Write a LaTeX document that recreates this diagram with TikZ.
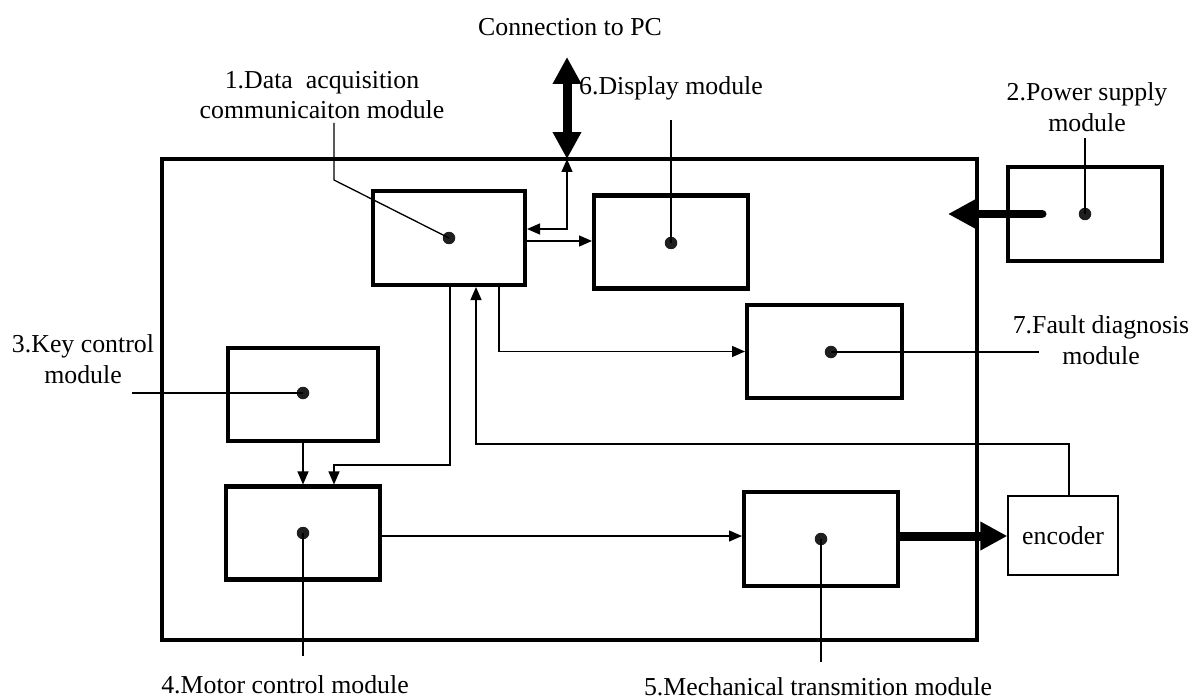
\documentclass[tikz,border=0pt]{standalone}
\usepackage{fontspec}
\setmainfont{Liberation Serif}
\usetikzlibrary{arrows.meta}

\tikzset{
	module/.style={draw, line width=2.3pt, minimum width=3.08cm, minimum height=1.86cm, inner sep=0pt},
	dot/.style={circle, fill=black!88, minimum size=0.25cm, inner sep=0pt},
	tag/.style={align=center, font=\fontsize{14.7}{17.5}\selectfont, inner sep=0pt},
	wire/.style={line width=0.75pt},
	wirearrow/.style={wire, -{Triangle[length=0.26cm, width=0.22cm]}},
	fatarrow/.style={line width=0.18cm, -{Triangle[length=0.54cm, width=0.54cm]}}
}

\begin{document}
\begin{tikzpicture}[x=0.02cm, y=-0.02cm]
	\useasboundingbox (0,0) rectangle (1192,699);
	% Board and modules:
	\node[draw, line width=2.3pt, minimum width=16.3cm, minimum height=9.62cm] (board) at (569.5,399.5) {};
	\node[module, minimum width=3.04cm, minimum height=1.88cm] (acq) at (449,238) {};
	\node[module] (disp) at (671,242) {};
	\node[module, minimum height=1.88cm] (power) at (1085,214) {};
	\node[module, minimum width=3.1cm] (fault) at (824.5,351.5) {};
	\node[module, minimum width=3cm] (key) at (303,394.5) {};
	\node[module] (motor) at (303,533) {};
	\node[module, minimum height=1.88cm] (mech) at (821,539) {};
	\node[draw, wire, minimum width=2.2cm, minimum height=1.58cm, font=\fontsize{14.7}{17.5}\selectfont] (enc) at (1063,535.5) {encoder};
	% Dots:
	\node[dot] (d1) at (449,238) {};
	\node[dot] (d2) at (1085,214) {};
	\node[dot] (d3) at (303,393) {};
	\node[dot] (d4) at (303,533) {};
	\node[dot] (d5) at (821,539) {};
	\node[dot] (d6) at (671,243) {};
	\node[dot] (d7) at (831,352) {};
	% Labels:
	\node[tag] (pc) at (570,27) {Connection to PC};
	\node[tag] (lab1) at (322,95) {1.Data\ \ acquisition\\communicaiton module};
	\node[tag] (lab2) at (1087,107) {2.Power supply\\module};
	\node[tag] (lab3) at (83,359) {3.Key control\\module};
	\node[tag] (lab4) at (285,685) {4.Motor control module};
	\node[tag] (lab5) at (818,687) {5.Mechanical transmition module};
	\node[tag] (lab6) at (671,88) {6.Display module};
	\node[tag] (lab7) at (1101,340) {7.Fault diagnosis\\module};
	% Leader ends:
	\coordinate (e1) at (334,123);
	\coordinate (k1) at (334,180);
	\coordinate (e2) at (1085,138);
	\coordinate (e3) at (132,393);
	\coordinate (e4) at (303,656);
	\coordinate (e5) at (821,662);
	\coordinate (e6) at (671,120);
	\coordinate (e7) at (1039,352);
	\draw[wire] (d1.center) -- (k1) -- (e1);
	\draw[wire] (d2.center) -- (e2);
	\draw[wire] (d3.center) -- (e3);
	\draw[wire] (d4.center) -- (e4);
	\draw[wire] (d5.center) -- (e5);
	\draw[wire] (d6.center) -- (e6);
	\draw[wire] (d7.center) -- (e7);
	% Connectors:
	\coordinate (pctip) at (567,57);
	\coordinate (bus) at (567,159);
	\coordinate (pwrtail) at (1042,214);
	\coordinate (pwrtip) at (948,214);
	\draw[fatarrow, {Triangle[length=0.54cm, width=0.54cm]}-{Triangle[length=0.54cm, width=0.54cm]}] (pctip) -- (bus);
	\draw[wirearrow, {Triangle[length=0.26cm, width=0.22cm]}-{Triangle[length=0.26cm, width=0.22cm]}] (acq.east |- 0,229) -| (bus);
	\draw[wirearrow] (acq.east |- 0,241) -- (disp.west |- 0,241);
	\draw[wirearrow] (acq.south -| 499,0) |- (fault.west);
	\draw[wirearrow] (acq.south -| 450,0) |- (334,465) -- (motor.north -| 334,0);
	\draw[wirearrow] (key.south) -- (motor.north);
	\draw[wirearrow] (enc.north -| 1069,0) |- (476,444) -- (acq.south -| 476,0);
	\draw[wirearrow] (motor.east |- 0,536) -- (mech.west |- 0,536);
	\draw[fatarrow] (mech.east |- 0,536) -- (enc.west |- 0,536);
	\draw[fatarrow, line cap=round] (pwrtail) -- (pwrtip);
\end{tikzpicture}
\end{document}
